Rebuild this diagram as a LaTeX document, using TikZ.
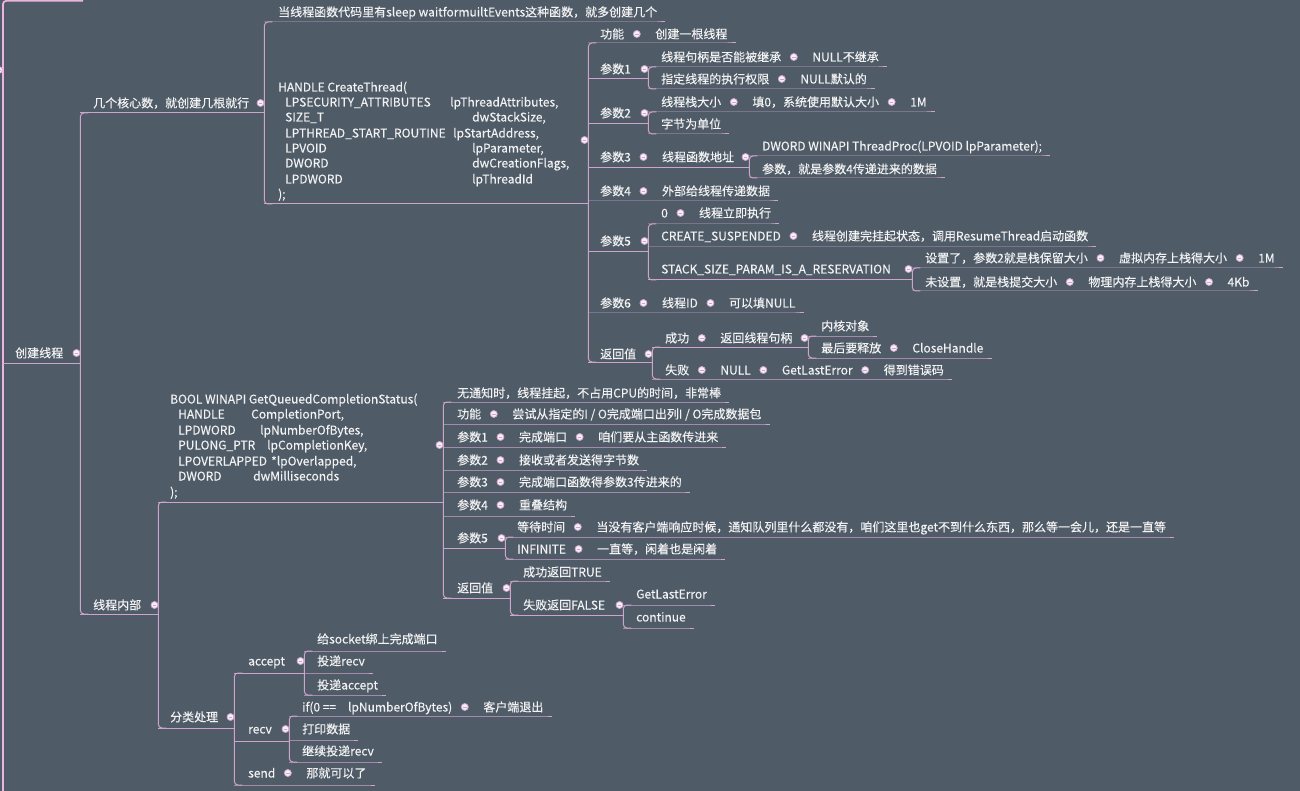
\documentclass[tikz,border=0pt]{standalone}
\usepackage{fontspec}
\setmainfont{Noto Sans CJK SC}[FakeBold=0.25]
\usetikzlibrary{positioning,calc}
\definecolor{slatebg}{HTML}{4F5B67}
\definecolor{twigpink}{HTML}{CFA4CC}
\definecolor{trunkpink}{HTML}{ECB3DE}
\definecolor{inkwhite}{HTML}{F2F2F2}
\definecolor{knobfill}{HTML}{F7F1F6}
\tikzset{
  txt/.style={anchor=west, inner sep=0pt, text height=10.5pt, text depth=1.5pt,
              text=inkwhite},
  knob/.style={circle, draw=twigpink, fill=knobfill, line width=0.8pt,
               minimum size=7pt, inner sep=0pt,
               path picture={\draw[twigpink, line width=0.9pt]
                 ($(path picture bounding box.west)+(1.7,0)$) --
                 ($(path picture bounding box.east)+(-1.7,0)$);}},
  twig/.style={draw=twigpink, line width=1pt},
  trunk/.style={draw=trunkpink, line width=1.7pt},
  fork/.style={twig, rounded corners=3.5pt},
}
% underline of a leaf row, of a row with children, and the bracket of a parent
\newcommand{\twigleaf}[3]{\draw[twig] (#1.east |- 0,#2) -- (#3.east |- 0,#2) -- ++(8,0);}
\newcommand{\twigstem}[3]{\draw[twig] (#1.east |- 0,#2) -- (#3.east |- 0,#2);}
\newcommand{\twigfork}[3]{\draw[fork] (#1.east |- 0,#2) ++(8,0) -- (#1.east |- 0,#2)
   -- (#1.east |- 0,#3) -- ++(8,0);}

\begin{document}
\begin{tikzpicture}[x=1pt, y=-1pt, font=\fontsize{12pt}{14pt}\selectfont]
\fill[slatebg] (0,0) rectangle (1300,791);
\useasboundingbox (0,0) rectangle (1300,791);

% ---------- the parent beyond the left edge ------------------------------
\node[knob] (k0) at (-1,70) {};
\draw[trunk, rounded corners=3.5pt] (83,0.8) -- (k0.east |- 0,0.8) -- (k0.east |- 0,800);

% ---------- 创建线程 -------------------------------------------------------
\node[txt] (root) at (15,353) {创建线程};
\node[knob] (kA) at (76.5,353) {};
\twigstem{k0}{363}{kA}
\twigfork{kA}{113}{614}

% ---------- 几个核心数 -----------------------------------------------------
\node[txt] (core) at (93,103) {几个核心数，就创建几根就行};
\node[knob] (kB) at (260.5,103) {};
\twigstem{kA}{113}{kB}
\twigfork{kB}{22}{204}
\node[txt] (sleep) at (278,12) {当线程函数代码里有sleep waitformuiltEvents这种函数，就多创建几个};
\twigleaf{kB}{22}{sleep}

% CreateThread prototype
\node[txt] (ct0) at (278,87) {HANDLE CreateThread(};
\foreach \y/\a/\bx/\b [count=\i] in {102/LPSECURITY\_ATTRIBUTES/450/{lpThreadAttributes,},
    117/SIZE\_T/472/{dwStackSize,}, 133/LPTHREAD\_START\_ROUTINE/453/{lpStartAddress,},
    148/LPVOID/472/{lpParameter,}, 163/DWORD/472/{dwCreationFlags,},
    179/LPDWORD/472/lpThreadId}{
  \node[txt] (ct\i-a) at (285,\y) {\a};
  \node[txt] (ct\i-b) at (\bx,\y) {\b};}
\node[txt] (ct7) at (278,194) {);};
\node[knob] (kC) at (584.5,140) {};
\twigstem{kB}{204}{kC}
\twigfork{kC}{43}{362}

% 功能
\node[txt] (fn) at (600,34) {功能};
\node[knob, right=8.5pt of fn] (fnk) {};
\node[txt, right=14.5pt of fnk] (fnv) {创建一根线程};
\twigleaf{kC}{43}{fnv}

% 参数1
\node[txt] (p1) at (600,69) {参数1};
\node[knob] (kD) at (644.5,69) {};
\twigstem{kC}{79}{kD}
\twigfork{kD}{67}{89}
\node[txt] (p1a) at (661,57) {线程句柄是否能被继承};
\node[knob, right=8.5pt of p1a] (p1ak) {};
\node[txt, right=14.5pt of p1ak] (p1av) {NULL不继承};
\twigleaf{kD}{67}{p1av}
\node[txt] (p1b) at (661,79) {指定线程的执行权限};
\node[knob, right=8.5pt of p1b] (p1bk) {};
\node[txt, right=14.5pt of p1bk] (p1bv) {NULL默认的};
\twigleaf{kD}{89}{p1bv}

% 参数2
\node[txt] (p2) at (600,113) {参数2};
\node[knob] (kE) at (644.5,113) {};
\twigstem{kC}{124}{kE}
\twigfork{kE}{112}{134}
\node[txt] (p2a) at (661,102) {线程栈大小};
\node[knob, right=8.5pt of p2a] (p2ak) {};
\node[txt, right=14.5pt of p2ak] (p2av) {填0，系统使用默认大小};
\node[knob, right=8.5pt of p2av] (p2avk) {};
\node[txt, right=14.5pt of p2avk] (p2aw) {1M};
\twigleaf{kE}{112}{p2aw}
\node[txt] (p2b) at (661,124) {字节为单位};
\twigleaf{kE}{134}{p2b}

% 参数3
\node[txt] (p3) at (600,157) {参数3};
\node[knob, right=8.5pt of p3] (p3k) {};
\node[txt, right=14.5pt of p3k] (p3v) {线程函数地址};
\node[knob] (kF) at (745.5,157) {};
\twigstem{kC}{168}{kF}
\twigfork{kF}{156}{178}
\node[txt] (p3a) at (762,146) {DWORD WINAPI ThreadProc(LPVOID lpParameter);};
\twigleaf{kF}{156}{p3a}
\node[txt] (p3b) at (762,169) {参数，就是参数4传递进来的数据};
\twigleaf{kF}{178}{p3b}

% 参数4
\node[txt] (p4) at (600,191) {参数4};
\node[knob, right=8.5pt of p4] (p4k) {};
\node[txt, right=14.5pt of p4k] (p4v) {外部给线程传递数据};
\twigleaf{kC}{201}{p4v}

% 参数5
\node[txt] (p5) at (600,241) {参数5};
\node[knob] (kG) at (644.5,241) {};
\twigstem{kC}{252}{kG}
\twigfork{kG}{224}{280}
\node[txt] (p5a) at (661,213) {0};
\node[knob, right=8.5pt of p5a] (p5ak) {};
\node[txt, right=14.5pt of p5ak] (p5av) {线程立即执行};
\twigleaf{kG}{224}{p5av}
\node[txt] (p5b) at (661,236) {CREATE\_SUSPENDED};
\node[knob, right=8.5pt of p5b] (p5bk) {};
\node[txt, right=14.5pt of p5bk] (p5bv) {线程创建完挂起状态，调用ResumeThread启动函数};
\twigleaf{kG}{247}{p5bv}
\node[txt] (p5c) at (661,269) {STACK\_SIZE\_PARAM\_IS\_A\_RESERVATION};
\node[knob] (kH) at (908.5,269) {};
\twigstem{kG}{280}{kH}
\twigfork{kH}{268}{291}
\node[txt] (p5d) at (925,258) {设置了，参数2就是栈保留大小};
\node[knob, right=8.5pt of p5d] (p5dk) {};
\node[txt, right=14.5pt of p5dk] (p5dv) {虚拟内存上栈得大小};
\node[knob, right=8.5pt of p5dv] (p5dvk) {};
\node[txt, right=14.5pt of p5dvk] (p5dw) {1M};
\twigleaf{kH}{268}{p5dw}
\node[txt] (p5e) at (925,282) {未设置，就是栈提交大小};
\node[knob, right=8.5pt of p5e] (p5ek) {};
\node[txt, right=14.5pt of p5ek] (p5ev) {物理内存上栈得大小};
\node[knob, right=8.5pt of p5ev] (p5evk) {};
\node[txt, right=14.5pt of p5evk] (p5ew) {4Kb};
\twigleaf{kH}{291}{p5ew}

% 参数6
\node[txt] (p6) at (600,303) {参数6};
\node[knob, right=8.5pt of p6] (p6k) {};
\node[txt, right=14.5pt of p6k] (p6v) {线程ID};
\node[knob, right=8.5pt of p6v] (p6vk) {};
\node[txt, right=14.5pt of p6vk] (p6w) {可以填NULL};
\twigleaf{kC}{313}{p6w}

% 返回值
\node[txt] (ret) at (600,354) {返回值};
\node[knob] (kI) at (648.5,354) {};
\twigstem{kC}{362}{kI}
\twigfork{kI}{347}{379}
\node[txt] (ok) at (665,338) {成功};
\node[knob, right=8.5pt of ok] (okk) {};
\node[txt, right=14.5pt of okk] (okv) {返回线程句柄};
\node[knob] (kJ) at (804.5,338) {};
\twigstem{kI}{347}{kJ}
\twigfork{kJ}{336}{358}
\node[txt] (oka) at (821,326) {内核对象};
\twigleaf{kJ}{336}{oka}
\node[txt] (okb) at (821,348) {最后要释放};
\node[knob, right=8.5pt of okb] (okbk) {};
\node[txt, right=14.5pt of okbk] (okbv) {CloseHandle};
\twigleaf{kJ}{358}{okbv}
\node[txt] (bad) at (665,370) {失败};
\node[knob, right=8.5pt of bad] (badk) {};
\node[txt, right=14.5pt of badk] (badv) {NULL};
\node[knob, right=8.5pt of badv] (badvk) {};
\node[txt, right=14.5pt of badvk] (badw) {GetLastError};
\node[knob, right=8.5pt of badw] (badwk) {};
\node[txt, right=14.5pt of badwk] (badx) {得到错误码};
\twigleaf{kI}{379}{badx}

% ---------- 线程内部 -------------------------------------------------------
\node[txt] (inner) at (93,605) {线程内部};
\node[knob] (kK) at (154.5,605) {};
\twigstem{kA}{614}{kK}
\twigfork{kK}{502}{728}

% GetQueuedCompletionStatus prototype
\node[txt] (gq0) at (170,399) {BOOL WINAPI GetQueuedCompletionStatus(};
\foreach \y/\a/\bx/\b [count=\i] in {414/HANDLE/251/{CompletionPort,},
    430/LPDWORD/260/{lpNumberOfBytes,}, 445/PULONG\_PTR/267/{lpCompletionKey,},
    461/LPOVERLAPPED/271/{*lpOverlapped,}, 476/DWORD/253/dwMilliseconds}{
  \node[txt] (gq\i-a) at (178,\y) {\a};
  \node[txt] (gq\i-b) at (\bx,\y) {\b};}
\node[txt] (gq6) at (170,492) {);};
\node[knob] (kL) at (439.5,445) {};
\twigstem{kK}{502}{kL}
\twigfork{kL}{402}{598}

\node[txt] (idle) at (457,393) {无通知时，线程挂起，不占用CPU的时间，非常棒};
\twigleaf{kL}{402}{idle}
\node[txt] (gfn) at (457,414) {功能};
\node[knob, right=8.5pt of gfn] (gfnk) {};
\node[txt, right=14.5pt of gfnk] (gfnv) {尝试从指定的I / O完成端口出列I / O完成数据包};
\twigleaf{kL}{424}{gfnv}
\node[txt] (g1) at (457,437) {参数1};
\node[knob, right=8.5pt of g1] (g1k) {};
\node[txt, right=14.5pt of g1k] (g1v) {完成端口};
\node[knob, right=8.5pt of g1v] (g1vk) {};
\node[txt, right=14.5pt of g1vk] (g1w) {咱们要从主函数传进来};
\twigleaf{kL}{447}{g1w}
\node[txt] (g2) at (457,460) {参数2};
\node[knob, right=8.5pt of g2] (g2k) {};
\node[txt, right=14.5pt of g2k] (g2v) {接收或者发送得字节数};
\twigleaf{kL}{470}{g2v}
\node[txt] (g3) at (457,482) {参数3};
\node[knob, right=8.5pt of g3] (g3k) {};
\node[txt, right=14.5pt of g3k] (g3v) {完成端口函数得参数3传进来的};
\twigleaf{kL}{492}{g3v}
\node[txt] (g4) at (457,505) {参数4};
\node[knob, right=8.5pt of g4] (g4k) {};
\node[txt, right=14.5pt of g4k] (g4v) {重叠结构};
\twigleaf{kL}{516}{g4v}
\node[txt] (g5) at (457,538) {参数5};
\node[knob] (kM) at (501.5,538) {};
\twigstem{kL}{548}{kM}
\twigfork{kM}{537}{559}
\node[txt] (g5a) at (517,527) {等待时间};
\node[knob, right=8.5pt of g5a] (g5ak) {};
\node[txt, right=14.5pt of g5ak] (g5av) {当没有客户端响应时候，通知队列里什么都没有，咱们这里也get不到什么东西，那么等一会儿，还是一直等};
\twigleaf{kM}{537}{g5av}
\node[txt] (g5b) at (517,549) {INFINITE};
\node[knob, right=8.5pt of g5b] (g5bk) {};
\node[txt, right=14.5pt of g5bk] (g5bv) {一直等，闲着也是闲着};
\twigleaf{kM}{559}{g5bv}
\node[txt] (gr) at (457,588) {返回值};
\node[knob] (kN) at (506.5,588) {};
\twigstem{kL}{598}{kN}
\twigfork{kN}{581}{615}
\node[txt] (gra) at (523,572) {成功返回TRUE};
\twigleaf{kN}{581}{gra}
\node[txt] (grb) at (523,605) {失败返回FALSE};
\node[knob] (kO) at (619.5,605) {};
\twigstem{kN}{615}{kO}
\twigfork{kO}{605}{628}
\node[txt] (grc) at (636,594) {GetLastError};
\twigleaf{kO}{605}{grc}
\node[txt] (grd) at (636,617) {continue};
\twigleaf{kO}{628}{grd}

% 分类处理
\node[txt] (sort) at (170,717) {分类处理};
\node[knob] (kP) at (230.5,717) {};
\twigstem{kK}{728}{kP}
\twigfork{kP}{673}{785}
\node[txt] (acc) at (248,661) {accept};
\node[knob] (kQ) at (300.5,661) {};
\twigstem{kP}{673}{kQ}
\twigfork{kQ}{651}{695}
\node[txt] (acc1) at (317,639) {给socket绑上完成端口};
\twigleaf{kQ}{651}{acc1}
\node[txt] (acc2) at (317,661) {投递recv};
\twigleaf{kQ}{673}{acc2}
\node[txt] (acc3) at (317,685) {投递accept};
\twigleaf{kQ}{695}{acc3}
\node[txt] (rcv) at (248,729) {recv};
\node[knob] (kR) at (285.5,729) {};
\twigstem{kP}{741}{kR}
\twigfork{kR}{716}{762}
\node[txt] (rcv1) at (302,707) {if(0 ==\hspace{12pt}lpNumberOfBytes)};
\node[knob, right=8.5pt of rcv1] (rcv1k) {};
\node[txt, right=14.5pt of rcv1k] (rcv1v) {客户端退出};
\twigleaf{kR}{716}{rcv1v}
\node[txt] (rcv2) at (302,729) {打印数据};
\twigleaf{kR}{740}{rcv2}
\node[txt] (rcv3) at (302,751) {继续投递recv};
\twigleaf{kR}{762}{rcv3}
\node[txt] (snd) at (248,773) {send};
\node[knob, right=8.5pt of snd] (sndk) {};
\node[txt, right=14.5pt of sndk] (sndv) {那就可以了};
\twigleaf{kP}{785}{sndv}
\end{tikzpicture}
\end{document}
